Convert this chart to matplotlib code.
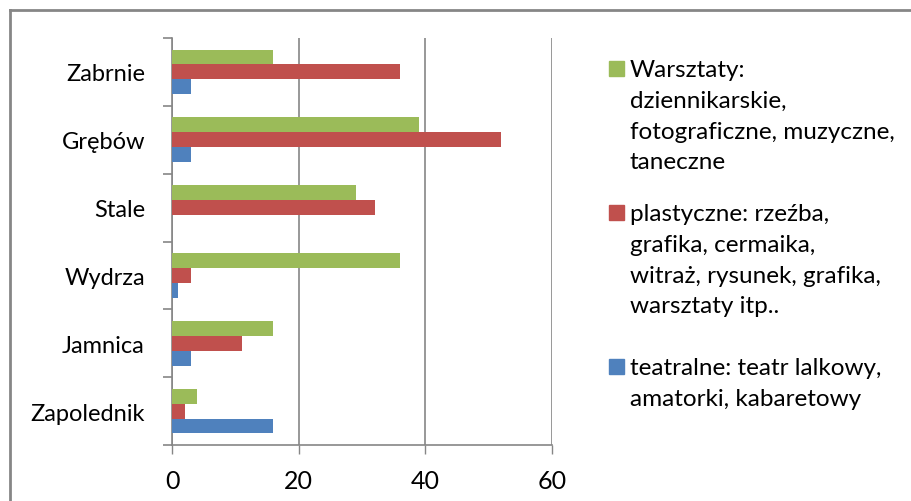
import matplotlib.pyplot as plt
from matplotlib.lines import Line2D
from matplotlib.patches import Rectangle
import numpy as np

plt.rcParams["font.family"] = ["Lato", "DejaVu Sans"]

# data (categories listed bottom -> top)
places = ["Zapolednik", "Jamnica", "Wydrza", "Stale", "Grębów", "Zabrnie"]
warsztaty = [4, 16, 36, 29, 39, 16]
plastyczne = [2, 11, 3, 32, 52, 36]
teatralne = [16, 3, 1, 0, 3, 3]
x_ticks = [0, 20, 40, 60]

legend_lines = [
    ["Warsztaty:", "dziennikarskie,", "fotograficzne, muzyczne,", "taneczne"],
    ["plastyczne: rzeźba,", "grafika, cermaika,", "witraż, rysunek, grafika,", "warsztaty itp.."],
    ["teatralne: teatr lalkowy,", "amatorki, kabaretowy"],
]

GREEN, RED, BLUE = "#9BBB59", "#C0504D", "#4F81BD"
GRID = "#868686"

W, H = 911, 502
fig = plt.figure(figsize=(W / 100, H / 100), dpi=100)
ax = fig.add_axes([172 / W, 1 - 446 / H, 380 / W, 407 / H])

y = np.arange(len(places))
h = 0.22
ax.barh(y + h, warsztaty, height=h, color=GREEN, zorder=3)
ax.barh(y, plastyczne, height=h, color=RED, zorder=3)
ax.barh(y - h, teatralne, height=h, color=BLUE, zorder=3)

ax.set_xlim(0, 60)
ax.set_ylim(-0.5, len(places) - 0.5)
ax.set_xticks(x_ticks)
ax.set_xticklabels([str(v) for v in x_ticks], fontsize=18)
ax.tick_params(axis="x", length=6.5, width=1, color=GRID, pad=11, direction="out")
ax.xaxis.grid(True, color=GRID, linewidth=1.2, zorder=0)

ax.set_yticks(y)
ax.set_yticklabels(places, fontsize=17)
ax.tick_params(axis="y", which="major", length=0, pad=19.5)
ax.set_yticks(np.arange(len(places) + 1) - 0.5, minor=True)
ax.tick_params(axis="y", which="minor", length=6.5, width=1.2, color=GRID, direction="out")

for s in ["top", "right"]:
    ax.spines[s].set_visible(False)
for s in ["left", "bottom"]:
    ax.spines[s].set_color(GRID)
    ax.spines[s].set_linewidth(1.2)

# manual legend, marker aligned with first line
colors = [GREEN, RED, BLUE]
baselines = [77, 221, 375]
dy = 30.8
for col, lines, b0 in zip(colors, legend_lines, baselines):
    fig.patches.append(Rectangle((609 / W, 1 - (b0 - 0.5) / H), 15 / W, 15 / H,
                                 transform=fig.transFigure, color=col))
    for i, line in enumerate(lines):
        fig.text(630 / W, 1 - (b0 + i * dy) / H, line, fontsize=17.5,
                 va="baseline", ha="left", color="black")

# outer chart border (top and left visible)
fig.add_artist(Line2D([10 / W, 1.01], [1 - 11 / H, 1 - 11 / H], color=GRID,
                      linewidth=2, transform=fig.transFigure))
fig.add_artist(Line2D([10 / W, 10 / W], [1 - 11 / H, -0.01], color=GRID,
                      linewidth=2, transform=fig.transFigure))

fig.savefig("out.png", dpi=100)
